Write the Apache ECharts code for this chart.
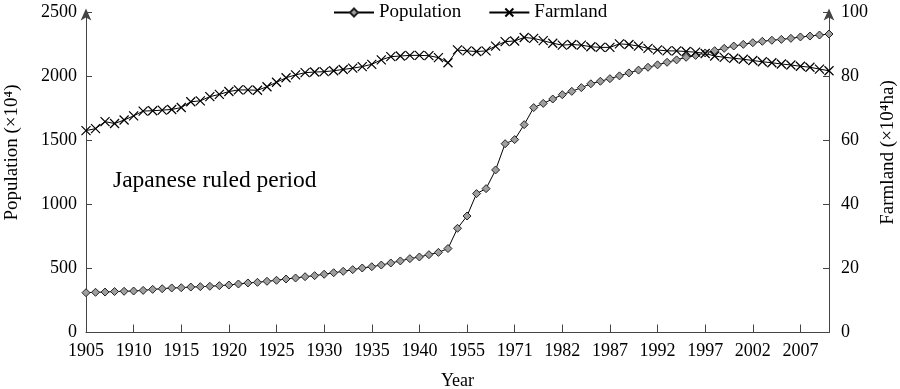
<!DOCTYPE html>
<html>
<head>
<meta charset="utf-8">
<script src="https://cdn.jsdelivr.net/npm/echarts@6/dist/echarts.min.js"></script>
<style>html,body{margin:0;padding:0;background:#fff}#c{width:900px;height:389px}</style>
</head>
<body>
<div id="c"></div>
<script>
var years = [1905,1906,1907,1908,1909,1910,1911,1912,1913,1914,1915,1916,1917,1918,1919,1920,1921,1922,1923,1924,1925,1926,1927,1928,1929,1930,1931,1932,1933,1934,1935,1936,1937,1938,1939,1940,1941,1942,1943,
1952,1955,1960,1961,1965,1970,1971,1975,1979,1980,1981,
1982,1983,1984,1985,1986,1987,1988,1989,1990,1991,1992,1993,1994,1995,1996,1997,1998,1999,2000,2001,2002,2003,2004,2005,2006,2007,2008,2009,2010];
var population = [311,314,316,320,322,324,329,337,342,348,350,355,358,361,366,371,379,387,392,400,408,418,426,436,444,455,467,478,491,504,514,527,543,559,577,590,608,626,656,
814,910,1085,1124,1270,1475,1507,1624,1757,1790,1824,
1858,1884,1913,1943,1963,1983,2005,2028,2050,2072,2091,2111,2130,2150,2165,2184,2202,2220,2238,2251,2264,2275,2283,2290,2298,2309,2316,2324,2332];
var farmland = [63.1,63.7,65.9,65.3,66.4,67.7,69.2,69.3,69.5,69.7,70.3,72.1,72.4,73.7,74.4,75.3,75.8,75.8,75.7,76.8,78.2,79.6,80.5,81.2,81.4,81.5,81.8,82.2,82.6,83.1,83.8,85.2,86.2,86.4,86.6,86.6,86.5,85.9,84.3,
88.3,88.0,87.8,88.0,89.5,90.9,91.1,92.2,91.9,91.2,90.4,
89.8,90.0,89.8,89.3,89.1,89.1,90.2,90.0,89.5,88.8,88.3,88.0,88.0,87.8,87.6,87.2,86.4,86.0,85.7,85.4,85.0,84.6,84.3,83.9,83.6,83.2,82.9,82.3,81.8];
var leftTicks = [0,500,1000,1500,2000,2500];
var rightTicks = [0,20,40,60,80,100];

var font = 'Liberation Serif';
var axisCol = '#444';
var chart = echarts.init(document.getElementById('c'), null, {renderer:'canvas'});
var crossPath = 'path://M0,0L10,10M10,0L0,10';
chart.setOption({
  animation:false,
  textStyle:{fontFamily:font},
  grid:{left:86,right:71,top:12.5,bottom:56.5,containLabel:false,outerBoundsMode:'none'},
  legend:{
    top:-2, left:328, itemGap:27, itemWidth:40, itemHeight:10,
    textStyle:{fontFamily:font,fontSize:19,color:'#000'},
    data:['Population','Farmland']
  },
  graphic:[{type:'text',left:113,top:169,style:{text:'Japanese ruled period',font:'23.5px "Liberation Serif"',fill:'#000'}}],
  xAxis:{
    type:'category', data:years, boundaryGap:false,
    name:'Year', nameLocation:'middle', nameGap:40,
    nameTextStyle:{fontFamily:font,fontSize:18,color:'#000'},
    axisLine:{lineStyle:{color:axisCol,width:1}},
    axisTick:{inside:true,length:8,interval:4,lineStyle:{color:axisCol}},
    axisLabel:{interval:4,fontFamily:font,fontSize:18,color:'#000',margin:10},
    splitLine:{show:false}
  },
  yAxis:[{
    type:'value', min:0, max:2500, interval:500, position:'left',
    name:'Population (×10⁴)', nameLocation:'middle', nameGap:64, nameRotate:90,
    nameTextStyle:{fontFamily:font,fontSize:19,color:'#000',padding:[0,0,0,40]},
    axisLine:{show:true,symbol:['none','arrow'],symbolSize:[8,12],symbolOffset:[0,4],lineStyle:{color:axisCol,width:1}},
    axisTick:{show:true,inside:true,length:6,lineStyle:{color:axisCol}},
    axisLabel:{fontFamily:font,fontSize:18,color:'#000',margin:9,formatter:function(v){return leftTicks.indexOf(v)>=0?String(v):'';}},
    splitLine:{show:false}
  },{
    type:'value', min:0, max:100, interval:20, position:'right',
    name:'Farmland (×10⁴ha)', nameLocation:'middle', nameGap:50, nameRotate:90,
    nameTextStyle:{fontFamily:font,fontSize:19,color:'#000',padding:[0,0,0,40]},
    axisLine:{show:true,symbol:['none','arrow'],symbolSize:[8,12],symbolOffset:[0,4],lineStyle:{color:axisCol,width:1}},
    axisTick:{show:true,inside:true,length:6,lineStyle:{color:axisCol}},
    axisLabel:{fontFamily:font,fontSize:18,color:'#000',margin:12,formatter:function(v){return rightTicks.indexOf(v)>=0?String(v):'';}},
    splitLine:{show:false}
  }],
  series:[{
    name:'Population', type:'line', yAxisIndex:0, data:population,
    symbol:'diamond', symbolSize:8, showAllSymbol:true,
    lineStyle:{color:'#000',width:1},
    itemStyle:{color:'#9e9e9e',borderColor:'#222',borderWidth:1}
  },{
    name:'Farmland', type:'line', yAxisIndex:1, data:farmland,
    symbol:crossPath, symbolSize:9, showAllSymbol:true,
    lineStyle:{color:'#000',width:1},
    itemStyle:{color:'transparent',borderColor:'#000',borderWidth:1.2}
  }]
});
</script>
</body>
</html>
